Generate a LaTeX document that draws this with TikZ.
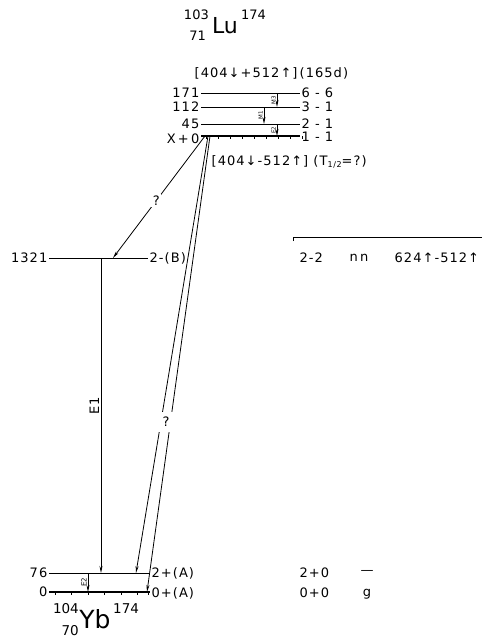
\documentclass[tikz,border=0pt]{standalone}
\usepackage{fontspec}
\setmainfont{DejaVu Sans}
\newfontfamily\lvfont[LetterSpace=8]{DejaVu Sans}
\usetikzlibrary{arrows.meta,positioning,calc}
\tikzset{
  lvline/.style={line width=1pt},
  lvgs/.style={line width=2pt},
  lvtick/.style={line width=0.8pt},
  lvtrans/.style={-{Stealth[length=7pt,width=3pt]},line width=0.8pt},
  lvlab/.style={font=\lvfont\fontsize{13}{15}\selectfont,inner sep=1.5pt},
  lvsym/.style={font=\fontsize{22}{24}\selectfont,inner sep=0pt},
  lvidx/.style={font=\fontsize{13}{14}\selectfont,inner sep=0pt},
  lvtiny/.style={font=\fontsize{5.5}{6}\selectfont,rotate=90,anchor=south,inner sep=1pt},
  lvgap/.style={fill=white,font=\fontsize{13}{15}\selectfont,inner sep=1.5pt},
}
\begin{document}
\begin{tikzpicture}[x=1pt,y=-1pt]
\useasboundingbox (0,0) rectangle (482,641);
% parent 174Lu
\node[lvsym] (lusym) at (225,26) {Lu};
\node[lvidx,anchor=east] (lua) at (209,15) {103};
\node[lvidx,anchor=east] (luz) at (206,36) {71};
\node[lvidx,anchor=west] (lum) at (241,15) {174};
\node[lvlab,anchor=west] (isoa) at (193,73) {[404↓+512↑]\,(165d)};
% levels of the isomer band
\coordinate (l171w) at (201,93);  \coordinate (l171e) at (300,93);
\coordinate (l112w) at (201,107); \coordinate (l112e) at (300,107);
\coordinate (l45w) at (201,124);  \coordinate (l45e) at (300,124);
\coordinate (lxw) at (201,136);   \coordinate (lxe) at (300,136);
\draw[lvline] (l171w) -- (l171e);
\draw[lvline] (l112w) -- (l112e);
\draw[lvline] (l45w) -- (l45e);
\draw[lvgs] (lxw) -- (lxe);
\foreach \t in {0,...,8}
  \draw[lvtick] ([xshift=5pt+\t*12pt]lxw) -- ++(0,3);
\node[lvlab,anchor=east] (e171) at (l171w) {171};
\node[lvlab,anchor=east] (e112) at (l112w) {112};
\node[lvlab,anchor=east] (e45) at (l45w) {45};
\node[lvlab,anchor=east] (ex) at ([yshift=-3pt]lxw) {X\,+\,0};
\node[lvlab,anchor=west] (k171) at (l171e) {6 - 6};
\node[lvlab,anchor=west] (k112) at (l112e) {3 - 1};
\node[lvlab,anchor=west] (k45) at (l45e) {2 - 1};
\node[lvlab,anchor=west] (kx) at ([yshift=-1pt]lxe) {1 - 1};
\draw[lvtrans] ([xshift=76pt]l171w) -- node[lvtiny] (m3) {M3} ([xshift=76pt]l112w);
\draw[lvtrans] ([xshift=63pt]l112w) -- node[lvtiny] (m1) {M1} ([xshift=63pt]l45w);
\draw[lvtrans] ([xshift=76pt]l45w) -- node[lvtiny] (e2a) {E2} ([xshift=76pt]lxw);
\node[lvlab,anchor=west] (isob) at (210,162) {[404↓-512↑] (T\raisebox{-0.35ex}{\fontsize{8}{9}\selectfont 1/2}=?)};
% daughter 174Yb
\coordinate (l1321w) at (49,258); \coordinate (l1321e) at (148,258);
\coordinate (l76w) at (49,573);   \coordinate (l76e) at (150,573);
\coordinate (l0w) at (49,592);    \coordinate (l0e) at (150,592);
\draw[lvline] (l1321w) -- (l1321e);
\draw[lvline] (l76w) -- (l76e);
\draw[lvgs] (l0w) -- (l0e);
\foreach \t in {0,...,5}
  \draw[lvtick] ([xshift=6pt+\t*16.5pt]l0w) -- ++(0,3);
\draw[lvtick] ([xshift=99pt]l0w) -- ++(0,3);
\node[lvlab,anchor=east] (e1321) at (l1321w) {1321};
\node[lvlab,anchor=east] (e76) at (l76w) {76};
\node[lvlab,anchor=east] (e0) at (l0w) {0};
\node[lvlab,anchor=west] (k1321) at (l1321e) {2-(B)};
\node[lvlab,anchor=west] (k76) at (l76e) {2+(A)};
\node[lvlab,anchor=west] (k0) at ([yshift=-1pt]l0e) {0+(A)};
\node[lvsym,font=\fontsize{25}{27}\selectfont] (ybsym) at (95,619) {Yb};
\node[lvidx,font=\fontsize{13.5}{16}\selectfont,anchor=east] (yba) at (79,609) {104};
\node[lvidx,font=\fontsize{13.5}{16}\selectfont,anchor=east] (ybz) at (79,631) {70};
\node[lvidx,font=\fontsize{13.5}{16}\selectfont,anchor=west] (ybm) at (113,609) {174};
% transitions
\draw[lvtrans] ([xshift=4pt]lxw) -- node[lvgap,pos=0.53] (q1) {?} ([xshift=64pt]l1321w);
\draw[lvtrans] ([xshift=52pt]l1321w) -- node[lvlab,rotate=90,anchor=south,pos=0.47] (e1) {E1} ([xshift=52pt]l76w);
\draw[lvtrans] ([xshift=9pt]lxw) -- ([xshift=98pt]l0w);
\draw[lvtrans] ([xshift=7pt]lxw) -- ([xshift=87pt]l76w);
\node[lvgap,minimum width=17pt,minimum height=20pt] (q2) at (166,422) {?};
\draw[lvtrans] ([xshift=39pt]l76w) -- node[lvtiny,font=\fontsize{7}{8}\selectfont] (e2b) {E2} ([xshift=39pt]l0w);
% configurations
\coordinate (brw) at (293,237); \coordinate (bre) at (482,237);
\draw[lvline] ([yshift=-4pt]brw) -- (brw) -- (bre);
\node[lvlab,anchor=west] (c22) at (298,258) {2-2};
\node[lvlab,anchor=west] (cnn) at (348,258) {n\,n};
\node[lvlab,anchor=west] (cnn2) at (393,258) {624↑-512↑};
\node[lvlab,anchor=west] (c20) at (298,573) {2+0};
\node[lvlab,anchor=west] (c00) at (298,593) {0+0};
\node[lvlab] (d20) at (367,572) {\textemdash};
\node[lvlab] (d00) at (367,594) {g};
\end{tikzpicture}
\end{document}
